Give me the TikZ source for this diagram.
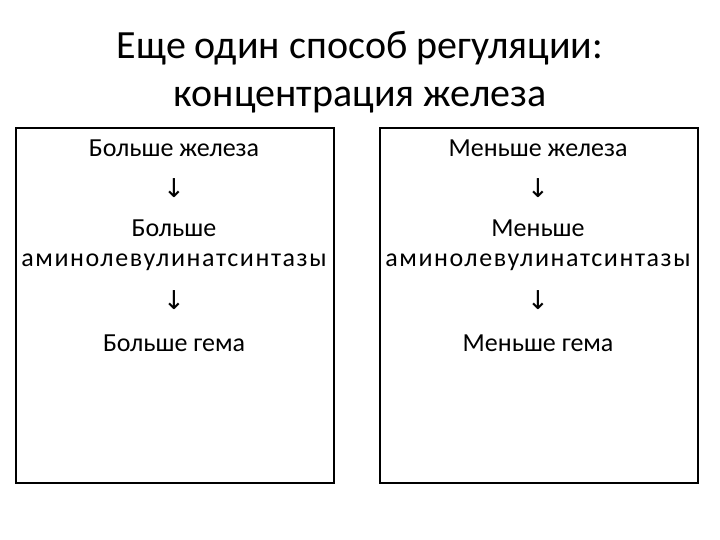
\documentclass[tikz,border=0pt]{standalone}
\usepackage{fontspec}
\setmainfont{Carlito}
\newfontfamily\arr{DejaVu Sans}
\begin{document}
\begin{tikzpicture}[x=1pt,y=1pt,
  box/.style={draw=black,line width=2pt,minimum width=318pt,minimum height=355pt,anchor=north west,inner sep=0pt},
  txt/.style={font=\fontsize{26}{30}\selectfont,inner sep=0pt},
  wide/.style={font=\fontsize{26}{30}\selectfont\addfontfeature{LetterSpace=6},inner sep=0pt},
  ar/.style={font=\arr\fontsize{26}{30}\selectfont,inner sep=0pt}]
\useasboundingbox (0,0) rectangle (720,540);
\node[font=\fontsize{40}{48}\selectfont,align=center] (title) at (360,468) {Еще один способ регуляции:\\концентрация железа};
\node[box] (L) at (15,413) {};
\node[box] (R) at (379,413) {};
\foreach \n/\x/\w in {l/174/Больше,r/538/Меньше}{
  \node[txt] (\n1) at (\x,392) {\w{} железа};
  \node[ar] (\n2) at (\x,352) {↓};
  \node[txt] (\n3) at (\x,312) {\w};
  \node[wide] (\n4) at (\x,278) {аминолевулинатсинтазы};
  \node[ar] (\n5) at (\x,240) {↓};
  \node[txt] (\n6) at (\x,197) {\w{} гема};
}
\end{tikzpicture}
\end{document}
